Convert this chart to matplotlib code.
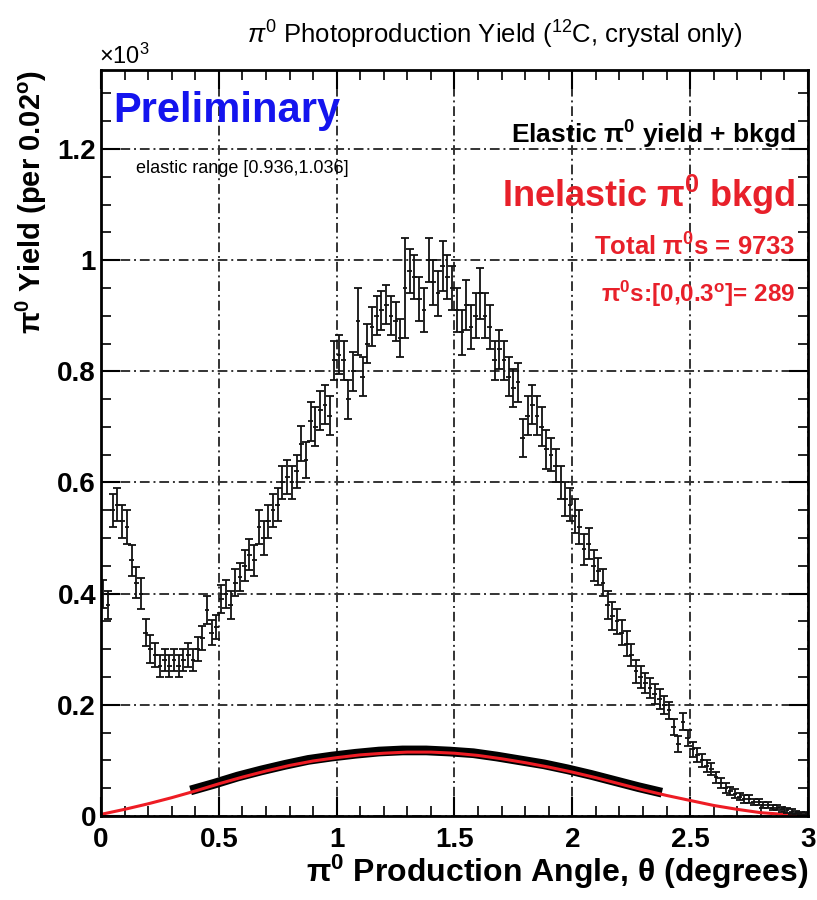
import numpy as np
import matplotlib.pyplot as plt
from matplotlib.ticker import MultipleLocator

plt.rcParams['font.family'] = ['Liberation Sans', 'DejaVu Sans']
plt.rcParams['mathtext.fontset'] = 'custom'
plt.rcParams['mathtext.rm'] = 'Liberation Sans'
plt.rcParams['mathtext.it'] = 'Liberation Sans:italic'
plt.rcParams['mathtext.bf'] = 'Liberation Sans:bold'

# pi0 yield per 0.02 deg bin, in units of 10^3 (bins from 0 to 3 deg)
bin_width = 0.02
yield_k = [
    0.40, 0.38, 0.55, 0.56, 0.53, 0.52, 0.46, 0.42, 0.40, 0.33,
    0.30, 0.29, 0.27, 0.28, 0.27, 0.28, 0.27, 0.28, 0.29, 0.28,
    0.30, 0.32, 0.37, 0.33, 0.34, 0.39, 0.40, 0.38, 0.42, 0.43,
    0.45, 0.47, 0.46, 0.52, 0.50, 0.53, 0.55, 0.56, 0.60, 0.61,
    0.60, 0.62, 0.67, 0.64, 0.71, 0.70, 0.73, 0.74, 0.72, 0.82,
    0.83, 0.82, 0.75, 0.80, 0.89, 0.79, 0.85, 0.88, 0.90, 0.91,
    0.92, 0.90, 0.89, 0.86, 0.95, 0.98, 0.97, 0.93, 0.91, 1.00,
    0.96, 0.94, 0.99, 0.97, 0.95, 0.91, 0.87, 0.92, 0.88, 0.90,
    0.94, 0.90, 0.88, 0.82, 0.84, 0.82, 0.79, 0.77, 0.78, 0.68,
    0.72, 0.74, 0.72, 0.70, 0.66, 0.65, 0.63, 0.60, 0.57, 0.56,
    0.54, 0.52, 0.48, 0.49, 0.45, 0.44, 0.42, 0.38, 0.36, 0.35,
    0.33, 0.31, 0.29, 0.26, 0.25, 0.24, 0.23, 0.22, 0.21, 0.20,
    0.19, 0.16, 0.13, 0.17, 0.14, 0.12, 0.11, 0.10, 0.09, 0.085,
    0.07, 0.06, 0.05, 0.045, 0.04, 0.035, 0.03, 0.03, 0.025, 0.025,
    0.02, 0.02, 0.015, 0.015, 0.012, 0.01, 0.008, 0.006, 0.005, 0.004,
]
yield_err = [
    0.025, 0.025, 0.030, 0.030, 0.030, 0.030, 0.028, 0.028, 0.028, 0.025,
    0.025, 0.022, 0.020, 0.020, 0.020, 0.020, 0.020, 0.020, 0.022, 0.020,
    0.022, 0.022, 0.025, 0.022, 0.022, 0.025, 0.025, 0.025, 0.025, 0.025,
    0.028, 0.028, 0.028, 0.030, 0.030, 0.030, 0.030, 0.030, 0.030, 0.030,
    0.030, 0.030, 0.032, 0.032, 0.035, 0.035, 0.035, 0.035, 0.035, 0.035,
    0.035, 0.035, 0.035, 0.035, 0.060, 0.035, 0.035, 0.035, 0.035, 0.035,
    0.035, 0.035, 0.035, 0.035, 0.090, 0.040, 0.040, 0.040, 0.040, 0.040,
    0.040, 0.040, 0.045, 0.040, 0.040, 0.040, 0.040, 0.045, 0.040, 0.040,
    0.045, 0.040, 0.040, 0.035, 0.035, 0.035, 0.035, 0.035, 0.035, 0.035,
    0.035, 0.035, 0.035, 0.035, 0.035, 0.030, 0.030, 0.030, 0.030, 0.030,
    0.030, 0.030, 0.028, 0.028, 0.028, 0.025, 0.025, 0.025, 0.025, 0.022,
    0.022, 0.022, 0.020, 0.020, 0.020, 0.018, 0.018, 0.018, 0.018, 0.016,
    0.016, 0.015, 0.014, 0.015, 0.014, 0.013, 0.012, 0.012, 0.011, 0.011,
    0.010, 0.009, 0.009, 0.008, 0.008, 0.007, 0.007, 0.007, 0.006, 0.006,
    0.006, 0.005, 0.005, 0.005, 0.004, 0.004, 0.004, 0.003, 0.003, 0.003,
]

# inelastic background shape, sampled every 0.1 deg
bkgd_angle = np.arange(31) * 0.1
bkgd_k = [
    0.003, 0.012, 0.022, 0.033, 0.045, 0.058, 0.070, 0.081, 0.091, 0.099,
    0.105, 0.110, 0.113, 0.115, 0.115, 0.113, 0.109, 0.103, 0.096, 0.088,
    0.079, 0.069, 0.058, 0.047, 0.037, 0.028, 0.019, 0.012, 0.006, 0.003,
    0.001,
]

# fitted background inside the fit window (0.38 - 2.38 deg)
fit_angle = 0.38 + np.arange(21) * 0.1
fit_k = [
    0.046, 0.058, 0.071, 0.082, 0.092, 0.101, 0.107, 0.112, 0.116, 0.118,
    0.118, 0.116, 0.113, 0.107, 0.100, 0.093, 0.084, 0.074, 0.063, 0.052,
    0.042,
]

angle = bin_width / 2 + np.arange(len(yield_k)) * bin_width

fig = plt.figure(figsize=(8.17, 9.0), dpi=100)
ax = fig.add_axes([0.1236, 0.0933, 0.8654, 0.8289])

ax.grid(True, which='major', color='#333333', linestyle=(0, (5, 2, 1, 2)), linewidth=1.4)
ax.set_axisbelow(True)

ax.plot(fit_angle, fit_k, color='black', linewidth=7, solid_capstyle='butt')
ax.plot(bkgd_angle, bkgd_k, color='#ee1c24', linewidth=2.2)

# bin-width bars, then vertical errors with end caps
ax.hlines(yield_k, angle - bin_width / 2, angle + bin_width / 2, color='#111111', linewidth=1.3)
ax.errorbar(angle, yield_k, yerr=yield_err, fmt='none',
            ecolor='#111111', elinewidth=1.3, capsize=3, capthick=1.3)

ax.set_xlim(0, 3)
ax.set_ylim(0, 1.342)
ax.xaxis.set_minor_locator(MultipleLocator(0.1))
ax.yaxis.set_minor_locator(MultipleLocator(0.05))
ax.set_xticks([0, 0.5, 1, 1.5, 2, 2.5, 3])
ax.set_xticklabels(['0', '0.5', '1', '1.5', '2', '2.5', '3'])
ax.set_yticks([0, 0.2, 0.4, 0.6, 0.8, 1.0, 1.2])
ax.set_yticklabels(['0', '0.2', '0.4', '0.6', '0.8', '1', '1.2'])
ax.tick_params(which='both', direction='in', top=True, right=True, labelsize=20)
ax.tick_params(which='major', length=14, width=1.5)
ax.tick_params(which='minor', length=7, width=1.2)
for lab in ax.get_xticklabels() + ax.get_yticklabels():
    lab.set_fontweight('bold')
ax.tick_params(axis='x', pad=8)
for s in ax.spines.values():
    s.set_linewidth(2)

ax.set_xlabel(r'$\mathbf{\pi^{0}}$ Production Angle, $\mathbf{\theta}$ (degrees)',
              fontsize=23, fontweight='bold', loc='right', labelpad=0)
ax.set_ylabel(r'$\mathbf{\pi^{0}}$ Yield (per 0.02$\mathbf{^{o}}$)',
              fontsize=21, fontweight='bold', loc='top', labelpad=6)

fig.text(0.606, 0.961, r'$\pi^{0}$ Photoproduction Yield ($^{12}$C, crystal only)',
         ha='center', va='center', fontsize=18.5)
fig.text(0.121, 0.937, r'$\times$10$^{3}$', ha='left', va='center', fontsize=17)

ax.text(0.017, 0.945, 'Preliminary', transform=ax.transAxes, color='#1414ee',
        fontsize=30, fontweight='bold', ha='left', va='center')
ax.text(0.05, 0.868, 'elastic range [0.936,1.036]', transform=ax.transAxes,
        fontsize=13, ha='left', va='center')

ax.text(0.982, 0.913, r'Elastic $\mathbf{\pi^{0}}$ yield + bkgd', transform=ax.transAxes,
        fontsize=19, fontweight='bold', ha='right', va='center')
ax.text(0.982, 0.833, r'Inelastic $\mathbf{\pi^{0}}$ bkgd', transform=ax.transAxes,
        color='#e8202a', fontsize=26, fontweight='bold', ha='right', va='center')
ax.text(0.982, 0.763, r'Total $\mathbf{\pi^{0}}$s = 9733', transform=ax.transAxes,
        color='#e8202a', fontsize=18.5, fontweight='bold', ha='right', va='center')
ax.text(0.982, 0.700, r'$\mathbf{\pi^{0}}$s:[0,0.3$\mathbf{^{o}}$]= 289', transform=ax.transAxes,
        color='#e8202a', fontsize=17.5, fontweight='bold', ha='right', va='center')

fig.savefig('out.png', dpi=100)
